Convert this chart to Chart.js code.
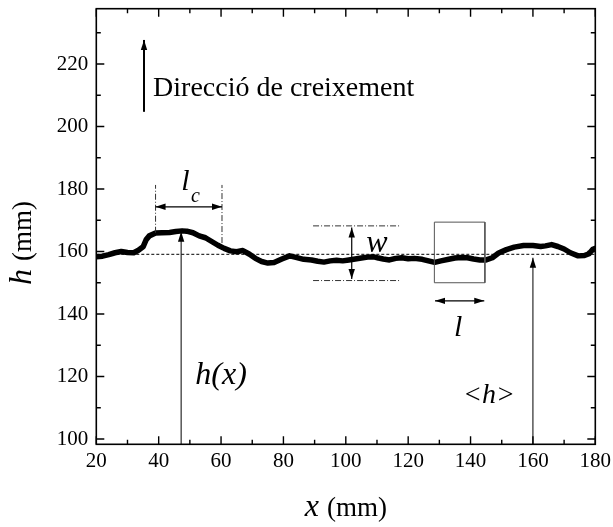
<!DOCTYPE html>
<html>
<head>
<meta charset="utf-8">
<script src="https://cdn.jsdelivr.net/npm/chart.js@4/dist/chart.umd.min.js"></script>
<style>
  html, body { margin: 0; padding: 0; background: #fff; }
  #wrap { width: 613px; height: 527px; }
</style>
</head>
<body>
<div id="wrap"><canvas id="front" width="613" height="527"></canvas></div>
<script>
// interface profile h(x)
const xPos = [20, 22, 24, 26, 28, 30, 32, 33.5, 35, 36, 37, 39, 41, 43.5, 45.5, 47.5, 49, 51, 53, 55,
  57, 59, 61, 63, 65, 67, 69, 71, 73, 75, 77, 79.5, 82, 84, 86.5, 89, 91, 93, 95, 97,
  99, 101, 103, 105, 107, 109, 110.5, 112, 114, 116, 118, 120, 122, 124.5, 126.5, 128.5, 130.5, 133, 135, 137,
  139, 141, 143, 145, 147, 149, 151.5, 154, 157, 160, 162.5, 164, 166, 168, 170, 172, 174.5, 176.5, 178, 179.2, 180];
const hVals = [158.3, 158.5, 159.0, 159.6, 160.0, 159.7, 159.6, 160.4, 161.5, 163.8, 165.0, 165.9, 166.0, 166.1, 166.4, 166.6, 166.5, 166.0, 165.0, 164.4,
  163.2, 162.0, 161.0, 160.2, 159.9, 160.3, 159.2, 157.8, 156.8, 156.3, 156.5, 157.6, 158.6, 158.1, 157.5, 157.3, 156.9, 156.6, 157.0, 157.2,
  157.0, 157.3, 157.6, 157.9, 158.2, 158.3, 157.9, 157.6, 157.3, 157.8, 158.0, 157.7, 157.8, 157.5, 157.0, 156.5, 157.0, 157.5, 157.9, 158.1,
  158.0, 157.6, 157.3, 157.3, 158.0, 159.5, 160.6, 161.4, 161.9, 161.9, 161.6, 161.8, 162.2, 161.6, 160.8, 159.6, 158.6, 158.7, 159.3, 160.7, 161.0];

const meanH = 159.1;
const xRange = [20, 180];
const yRange = [98.3, 237.7];
const xTickVals = [20, 30, 40, 50, 60, 70, 80, 90, 100, 110, 120, 130, 140, 150, 160, 170, 180];
const yTickVals = [100, 110, 120, 130, 140, 150, 160, 170, 180, 190, 200, 210, 220, 230];

// w window (dash-dot) and l box
const wBand = { x0: 89.5, x1: 117.4, lo: 150.7, hi: 168.2 };
const lBox = { x0: 128.4, x1: 144.6, lo: 150.0, hi: 169.4 };
const lcMarks = { x0: 39.0, x1: 60.3, top: 181.3, bot0: 166.0, bot1: 162.7 };

// arrows: [x1, y1, x2, y2, headStart, headEnd, width]
const arrows = [
  [35.3, 204.7, 35.3, 227.7, false, true, 2],
  [lcMarks.x0, 174.3, lcMarks.x1, 174.3, true, true, 1.2],
  [101.9, 151.2, 101.9, 167.7, true, true, 1.2],
  [128.6, 144.2, 144.4, 144.2, true, true, 1.2],
  [47.2, 98.3, 47.2, 166.3, false, true, 1],
  [160, 98.3, 160, 158.0, false, true, 1]
];

// text labels: [text, x, y, font, align]
const labels = [
  ['Direcció de creixement', 38.2, 209.8, '28px "Liberation Serif"', 'left'],
  ['l', 48.6, 179.7, 'italic 30px "Liberation Serif"', 'center'],
  ['c', 51.8, 175.8, 'italic 20px "Liberation Serif"', 'center'],
  ['w', 110.0, 159.8, 'italic 32px "Liberation Serif"', 'center'],
  ['l', 136.0, 133.0, 'italic 30px "Liberation Serif"', 'center'],
  ['h(x)', 60.0, 117.6, 'italic 32px "Liberation Serif"', 'center'],
  ['<h>', 145.9, 111.5, 'italic 28px "Liberation Serif"', 'center']
];

function pt(x, y) { return { x: x, y: y }; }
const dashDot = [6, 2, 1, 2];

const datasets = [
  { data: xPos.map((x, i) => pt(x, hVals[i])), borderColor: '#000', borderWidth: 5.5, borderJoinStyle: 'round', borderCapStyle: 'round', pointRadius: 0, tension: 0, order: 1 },
  { data: [pt(xRange[0], meanH), pt(xRange[1], meanH)], borderColor: '#000', borderWidth: 1, borderDash: [3, 2], pointRadius: 0, order: 0 },
  { data: [pt(wBand.x0, wBand.hi), pt(wBand.x1, wBand.hi)], borderColor: '#333', borderWidth: 1, borderDash: dashDot, pointRadius: 0 },
  { data: [pt(wBand.x0, wBand.lo), pt(wBand.x1, wBand.lo)], borderColor: '#333', borderWidth: 1, borderDash: dashDot, pointRadius: 0 },
  { data: [pt(lcMarks.x0, lcMarks.bot0), pt(lcMarks.x0, lcMarks.top)], borderColor: '#333', borderWidth: 1, borderDash: dashDot, pointRadius: 0 },
  { data: [pt(lcMarks.x1, lcMarks.bot1), pt(lcMarks.x1, lcMarks.top)], borderColor: '#333', borderWidth: 1, borderDash: dashDot, pointRadius: 0 },
  { data: [pt(lBox.x0, lBox.lo), pt(lBox.x0, lBox.hi), pt(lBox.x1, lBox.hi), pt(lBox.x1, lBox.lo), pt(lBox.x0, lBox.lo)], borderColor: '#555', borderWidth: 1, pointRadius: 0 }
];

function arrowHead(ctx, x, y, ang, len, half) {
  ctx.beginPath();
  ctx.moveTo(x, y);
  ctx.lineTo(x - len * Math.cos(ang) + half * Math.sin(ang), y - len * Math.sin(ang) - half * Math.cos(ang));
  ctx.lineTo(x - len * Math.cos(ang) - half * Math.sin(ang), y - len * Math.sin(ang) + half * Math.cos(ang));
  ctx.closePath();
  ctx.fill();
}

const decorations = {
  id: 'decorations',
  afterDatasetsDraw(chart) {
    const ctx = chart.ctx, xs = chart.scales.x, ys = chart.scales.y;
    ctx.save();
    ctx.fillStyle = '#000';
    ctx.strokeStyle = '#000';
    for (const a of arrows) {
      const x1 = xs.getPixelForValue(a[0]), y1 = ys.getPixelForValue(a[1]);
      const x2 = xs.getPixelForValue(a[2]), y2 = ys.getPixelForValue(a[3]);
      const ang = Math.atan2(y2 - y1, x2 - x1);
      ctx.lineWidth = a[6];
      ctx.beginPath();
      ctx.moveTo(x1, y1);
      ctx.lineTo(x2, y2);
      ctx.stroke();
      if (a[5]) arrowHead(ctx, x2, y2, ang, 10, 3.2);
      if (a[4]) arrowHead(ctx, x1, y1, ang + Math.PI, 10, 3.2);
    }
    ctx.textBaseline = 'alphabetic';
    for (const l of labels) {
      ctx.font = l[3];
      ctx.textAlign = l[4];
      ctx.fillText(l[0], xs.getPixelForValue(l[1]), ys.getPixelForValue(l[2]));
    }
    ctx.restore();
  },
  afterDraw(chart) {
    const ctx = chart.ctx, a = chart.chartArea, xs = chart.scales.x, ys = chart.scales.y;
    ctx.save();
    ctx.strokeStyle = '#000';
    ctx.lineWidth = 1.6;
    ctx.strokeRect(a.left, a.top, a.right - a.left, a.bottom - a.top);
    // inward ticks on all four sides, long on the labelled ones
    ctx.lineWidth = 1.4;
    ctx.beginPath();
    for (const v of xTickVals) {
      const px = xs.getPixelForValue(v), len = v % 20 === 0 ? 8 : 4.5;
      ctx.moveTo(px, a.bottom); ctx.lineTo(px, a.bottom - len);
      ctx.moveTo(px, a.top); ctx.lineTo(px, a.top + len);
    }
    for (const v of yTickVals) {
      const py = ys.getPixelForValue(v), len = v % 20 === 0 ? 8 : 4.5;
      ctx.moveTo(a.left, py); ctx.lineTo(a.left + len, py);
      ctx.moveTo(a.right, py); ctx.lineTo(a.right - len, py);
    }
    ctx.stroke();
    // axis titles, math symbol in italic
    ctx.fillStyle = '#000';
    ctx.textBaseline = 'alphabetic';
    ctx.textAlign = 'left';
    const cx = (a.left + a.right) / 2;
    ctx.font = 'italic 32px "Liberation Serif"';
    const wx = ctx.measureText('x ').width;
    ctx.font = '27px "Liberation Serif"';
    const wm = ctx.measureText('(mm)').width;
    let sx = cx - (wx + wm) / 2;
    ctx.font = 'italic 32px "Liberation Serif"';
    ctx.fillText('x', sx, 516);
    ctx.font = '27px "Liberation Serif"';
    ctx.fillText('(mm)', sx + wx, 516);

    ctx.translate(31, 243);
    ctx.rotate(-Math.PI / 2);
    ctx.font = 'italic 32px "Liberation Serif"';
    const wh = ctx.measureText('h ').width;
    sx = -(wh + wm) / 2;
    ctx.fillText('h', sx, 0);
    ctx.font = '27px "Liberation Serif"';
    ctx.fillText('(mm)', sx + wh, 0);
    ctx.restore();
  }
};

new Chart(document.getElementById('front'), {
  type: 'line',
  data: { datasets },
  options: {
    responsive: false,
    devicePixelRatio: 1,
    animation: false,
    layout: { padding: { left: 0, right: 17.7, top: 8.7, bottom: 0 } },
    plugins: { legend: { display: false }, tooltip: { enabled: false } },
    scales: {
      x: {
        type: 'linear', min: xRange[0], max: xRange[1],
        grid: { display: false, drawTicks: false },
        border: { display: false },
        afterBuildTicks: s => { s.ticks = xTickVals.map(v => ({ value: v })); },
        afterFit: s => { s.height = 82.7; s.paddingLeft = 0; s.paddingRight = 0; },
        ticks: {
          autoSkip: false, maxRotation: 0, padding: 5, color: '#000',
          font: { family: 'Liberation Serif', size: 21 },
          callback: v => (v % 20 === 0 ? v : '')
        }
      },
      y: {
        type: 'linear', min: yRange[0], max: yRange[1],
        grid: { display: false, drawTicks: false },
        border: { display: false },
        afterBuildTicks: s => { s.ticks = yTickVals.map(v => ({ value: v })); },
        afterFit: s => { s.width = 96.3; s.paddingTop = 0; s.paddingBottom = 0; },
        ticks: {
          autoSkip: false, padding: 8, color: '#000',
          font: { family: 'Liberation Serif', size: 21 },
          callback: v => (v % 20 === 0 ? v : '')
        }
      }
    }
  },
  plugins: [decorations]
});
</script>
</body>
</html>
